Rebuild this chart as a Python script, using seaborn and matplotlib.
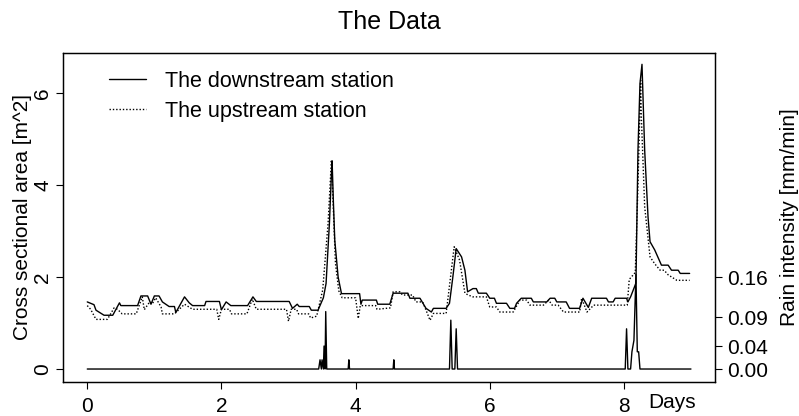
import numpy as np
import pandas as pd
import matplotlib
matplotlib.use("Agg")
import matplotlib.pyplot as plt
import seaborn as sns

# downstream station (solid) - day, cross sectional area [m^2]
down_day = [0.00, 0.10, 0.13, 0.25, 0.38, 0.48, 0.50, 0.75, 0.80, 0.90, 0.95, 1.00, 1.07, 1.12,
            1.22, 1.30, 1.32, 1.45, 1.52, 1.57, 1.75, 1.77, 1.97, 2.00, 2.07, 2.14, 2.39, 2.47,
            2.52, 3.01, 3.06, 3.13, 3.16, 3.31, 3.34, 3.44, 3.52, 3.56, 3.61, 3.64, 3.65, 3.67,
            3.69, 3.74, 3.79, 4.06, 4.08, 4.10, 4.31, 4.33, 4.51, 4.56, 4.78, 4.81, 4.96, 5.05,
            5.13, 5.16, 5.35, 5.40, 5.45, 5.50, 5.58, 5.63, 5.67, 5.75, 5.80, 5.83, 5.95, 6.00,
            6.07, 6.10, 6.25, 6.30, 6.37, 6.40, 6.47, 6.62, 6.65, 6.85, 6.90, 6.97, 7.00, 7.14,
            7.19, 7.34, 7.39, 7.47, 7.52, 7.74, 7.77, 7.84, 7.87, 8.04, 8.06, 8.10, 8.18, 8.21,
            8.24, 8.27, 8.31, 8.36, 8.39, 8.46, 8.56, 8.66, 8.71, 8.81, 8.84, 8.98]
down_area = [1.46, 1.40, 1.28, 1.17, 1.17, 1.44, 1.38, 1.38, 1.59, 1.59, 1.41, 1.59, 1.59, 1.46,
             1.36, 1.36, 1.23, 1.57, 1.44, 1.38, 1.38, 1.47, 1.47, 1.29, 1.46, 1.38, 1.38, 1.57,
             1.47, 1.47, 1.32, 1.41, 1.36, 1.36, 1.28, 1.28, 1.55, 1.86, 3.17, 4.25, 4.53, 3.60,
             2.80, 2.00, 1.64, 1.64, 1.41, 1.50, 1.50, 1.41, 1.41, 1.65, 1.65, 1.54, 1.54, 1.32,
             1.24, 1.32, 1.32, 1.43, 2.00, 2.62, 2.44, 2.15, 1.68, 1.75, 1.75, 1.65, 1.65, 1.54,
             1.54, 1.43, 1.43, 1.32, 1.32, 1.43, 1.54, 1.54, 1.46, 1.46, 1.54, 1.54, 1.46, 1.46,
             1.32, 1.32, 1.54, 1.34, 1.54, 1.54, 1.46, 1.46, 1.54, 1.54, 1.46, 1.57, 1.87, 4.76,
             6.21, 6.63, 4.76, 3.31, 2.77, 2.59, 2.26, 2.26, 2.15, 2.15, 2.08, 2.08]

# upstream station (dotted)
up_day = [0.00, 0.05, 0.13, 0.30, 0.40, 0.45, 0.52, 0.73, 0.82, 0.85, 0.93, 0.97, 1.02, 1.10,
          1.12, 1.30, 1.45, 1.57, 1.93, 1.96, 2.00, 2.12, 2.15, 2.38, 2.46, 2.52, 2.97, 3.00,
          3.04, 3.12, 3.15, 3.30, 3.33, 3.42, 3.51, 3.59, 3.64, 3.66, 3.70, 3.75, 3.80, 4.00,
          4.04, 4.07, 4.30, 4.32, 4.52, 4.56, 4.66, 4.70, 4.85, 4.90, 5.00, 5.07, 5.11, 5.16,
          5.35, 5.38, 5.47, 5.55, 5.63, 5.68, 5.75, 5.95, 6.00, 6.10, 6.15, 6.35, 6.45, 6.55,
          6.60, 6.80, 6.88, 6.93, 7.02, 7.10, 7.34, 7.37, 7.45, 7.55, 8.05, 8.08, 8.14, 8.17,
          8.21, 8.25, 8.26, 8.31, 8.39, 8.46, 8.54, 8.60, 8.66, 8.79, 8.98]
up_area = [1.38, 1.30, 1.08, 1.08, 1.33, 1.30, 1.20, 1.20, 1.57, 1.29, 1.46, 1.42, 1.55, 1.35,
           1.20, 1.20, 1.41, 1.30, 1.30, 1.08, 1.30, 1.30, 1.20, 1.20, 1.52, 1.30, 1.30, 1.04,
           1.30, 1.30, 1.20, 1.20, 1.11, 1.15, 1.72, 3.17, 4.55, 3.80, 2.30, 1.70, 1.55, 1.55,
           1.10, 1.38, 1.38, 1.30, 1.33, 1.68, 1.68, 1.61, 1.61, 1.46, 1.46, 1.21, 1.06, 1.21,
           1.21, 1.57, 2.66, 2.37, 1.65, 1.61, 1.57, 1.57, 1.35, 1.35, 1.24, 1.24, 1.50, 1.50,
           1.39, 1.39, 1.50, 1.39, 1.39, 1.24, 1.24, 1.54, 1.24, 1.39, 1.39, 1.95, 2.05, 2.10,
           4.00, 6.28, 5.50, 3.53, 2.44, 2.29, 2.15, 2.15, 2.05, 1.93, 1.93]

# rain intensity [mm/min]
rain_day = [0.00, 3.45, 3.47, 3.49, 3.50, 3.52, 3.53, 3.545, 3.555, 3.57, 3.89, 3.90, 3.91,
            4.56, 4.57, 4.58, 5.40, 5.42, 5.44, 5.48, 5.50, 5.52, 8.02, 8.04, 8.06, 8.10,
            8.12, 8.15, 8.18, 8.20, 8.22, 8.24, 9.00]
rain_val = [0.0, 0.0, 0.016, 0.0, 0.016, 0.0, 0.040, 0.0, 0.100, 0.0, 0.0, 0.016, 0.0,
            0.0, 0.016, 0.0, 0.0, 0.085, 0.0, 0.0, 0.070, 0.0, 0.0, 0.070, 0.0, 0.0,
            0.030, 0.050, 0.165, 0.030, 0.030, 0.0, 0.0]
rain_ticks = [0.00, 0.04, 0.09, 0.16]
area_ticks = [0, 2, 4, 6]

df_down = pd.DataFrame({"day": down_day, "area": down_area})
df_up = pd.DataFrame({"day": up_day, "area": up_area})
df_rain = pd.DataFrame({"day": rain_day, "rain": rain_val})

sns.set_style("ticks")
plt.rcParams["font.family"] = ["Liberation Sans", "DejaVu Sans"]
plt.rcParams["font.size"] = 15
for k in ["text.color", "axes.labelcolor", "xtick.color", "ytick.color", "axes.edgecolor"]:
    plt.rcParams[k] = "black"

fig = plt.figure(figsize=(7.99, 4.16), dpi=100)
ax = fig.add_axes([0.079, 0.082, 0.816, 0.791])

sns.lineplot(data=df_down, x="day", y="area", ax=ax, color="black", lw=1.0,
             label="The downstream station", estimator=None, sort=False)
sns.lineplot(data=df_up, x="day", y="area", ax=ax, color="black", lw=1.0,
             linestyle=(0, (1, 1.4)), label="The upstream station", estimator=None, sort=False)

ax.set_xlim(-0.36, 9.36)
ax.set_ylim(-0.28, 6.88)
ax.set_xticks([0, 2, 4, 6, 8])
ax.set_yticks(area_ticks)
ax.set_xlabel("")
ax.set_ylabel("Cross sectional area [m^2]", fontsize=15, labelpad=1)
for lab in ax.get_yticklabels():
    lab.set_rotation(90)
    lab.set_va("center")
ax.tick_params(direction="out", length=5, width=0.8, pad=6, labelsize=15)
ax.tick_params(axis="y", pad=3)
ax.text(0.934, -0.064, "Days", transform=ax.transAxes, ha="center", va="center", fontsize=15)
ax.set_title("The Data", fontsize=18, pad=17)

# rain on a second y axis: 0.16 mm/min lines up with 2 m^2
scale = rain_ticks[-1] / area_ticks[1]
ax2 = ax.twinx()
sns.lineplot(data=df_rain, x="day", y="rain", ax=ax2, color="black", lw=1.0,
             estimator=None, sort=False, legend=False)
y0, y1 = ax.get_ylim()
ax2.set_ylim(y0 * scale, y1 * scale)
ax2.set_yticks(rain_ticks)
ax2.set_yticklabels(["%.2f" % v for v in rain_ticks])
ax2.set_ylabel("Rain intensity [mm/min]", fontsize=15, labelpad=8)
ax2.tick_params(direction="out", length=5, width=0.8, pad=4, labelsize=15)

for a in (ax, ax2):
    for s in a.spines.values():
        s.set_linewidth(0.9)
        s.set_color("black")

leg = ax.legend(loc="upper left", bbox_to_anchor=(0.04, 1.005), frameon=False,
                handlelength=1.75, handletextpad=0.85, labelspacing=0.42, fontsize=15.5)

fig.savefig("out.png", dpi=100)
